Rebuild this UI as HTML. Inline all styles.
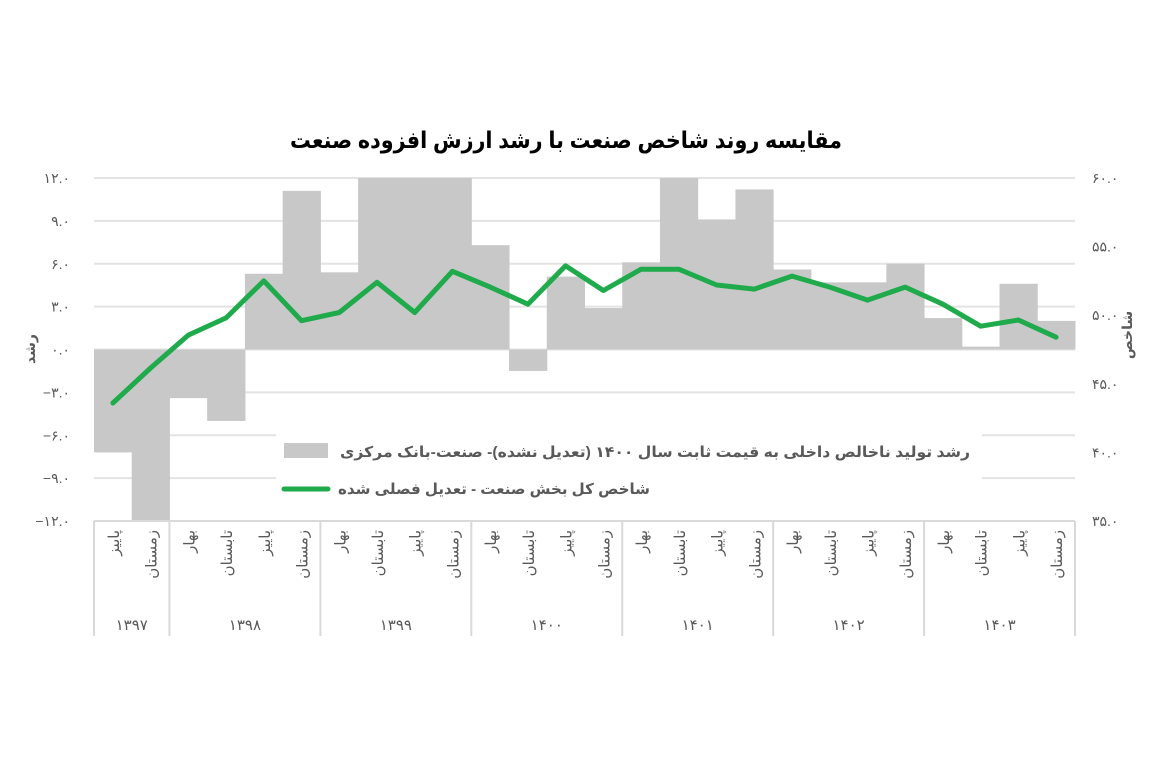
<!DOCTYPE html>
<html><head><meta charset="utf-8"><style>
body{margin:0;background:#fff}
svg{display:block;font-family:"Liberation Sans","Noto Sans CJK SC","DejaVu Sans",sans-serif}
</style></head><body>
<svg id="chart" width="1152" height="768" viewBox="0 0 1152 768" xmlns="http://www.w3.org/2000/svg">
<text x="566" y="148" text-anchor="middle" font-size="23" font-weight="bold" fill="#000" textLength="552" lengthAdjust="spacingAndGlyphs">مقایسه روند شاخص صنعت با رشد ارزش افزوده صنعت</text>
<g id="grid"></g>
<g id="bars"></g>
<g id="xaxis"></g>
<g id="ly"></g>
<g id="ry"></g>
<rect x="276" y="432" width="706" height="70" fill="#fff"/>
<g id="line"></g>
<text transform="translate(35,349) rotate(-90)" text-anchor="middle" font-size="14" font-weight="bold" fill="#595959">رشد</text>
<text transform="translate(1132,335) rotate(-90)" text-anchor="middle" font-size="14" font-weight="bold" fill="#595959">شاخص</text>
<g>
<rect x="284" y="443" width="44" height="15" fill="#c9c8c9"/>
<text x="970" y="457" text-anchor="end" font-size="15" font-weight="bold" fill="#595959" textLength="630" lengthAdjust="spacingAndGlyphs">رشد تولید ناخالص داخلی به قیمت ثابت سال ۱۴۰۰ (تعدیل نشده)- صنعت-بانک مرکزی</text>
<line x1="284" y1="489" x2="328" y2="489" stroke="#1faa4b" stroke-width="5" stroke-linecap="round"/>
<text x="650" y="494" text-anchor="end" font-size="15" font-weight="bold" fill="#595959" textLength="312" lengthAdjust="spacingAndGlyphs">شاخص کل بخش صنعت - تعدیل فصلی شده</text>
</g>
</svg>
<script>
const years = ["۱۳۹۷","۱۳۹۸","۱۳۹۹","۱۴۰۰","۱۴۰۱","۱۴۰۲","۱۴۰۳"];
const yearCounts = [2,4,4,4,4,4,4];
const seasons = ["پاییز","زمستان","بهار","تابستان","پاییز","زمستان","بهار","تابستان","پاییز","زمستان","بهار","تابستان","پاییز","زمستان","بهار","تابستان","پاییز","زمستان","بهار","تابستان","پاییز","زمستان","بهار","تابستان","پاییز","زمستان"];
const growth = [-7.2,-12.5,-3.4,-5.0,5.3,11.1,5.4,13,13,13,7.3,-1.5,5.1,2.9,6.1,13,9.1,11.2,5.6,4.7,4.7,6.0,2.2,0.2,4.6,2.0];
const indexVals = [43.6,46.15,48.55,49.8,52.5,49.6,50.2,52.4,50.2,53.2,52.05,50.8,53.6,51.8,53.35,53.35,52.2,51.9,52.85,52.05,51.1,52.05,50.8,49.2,49.65,48.4];
const leftTicks = [12,9,6,3,0,-3,-6,-9,-12];
const rightTicks = [60,55,50,45,40,35];

const NS="http://www.w3.org/2000/svg";
const X0=94,X1=1075,YT=178,YB=521;
const n=seasons.length, bw=(X1-X0)/n;
const yL=v=>YT+(12-Math.max(-12,Math.min(12,v)))/24*(YB-YT);
const yR=v=>YT+(60-v)/25*(YB-YT);
const xC=i=>X0+bw*(i+0.5);
const fa=s=>String(s).replace(/\d/g,d=>"۰۱۲۳۴۵۶۷۸۹"[d]);
function mk(tag,attrs,parent,txt){const e=document.createElementNS(NS,tag);for(const k in attrs)e.setAttribute(k,attrs[k]);if(txt!==undefined)e.textContent=txt;document.getElementById(parent).appendChild(e);return e;}

leftTicks.forEach((t,i)=>{
  const y=yL(t);
  const g=mk("line",{x1:X0,x2:X1,y1:y,y2:y,stroke:"#e3e3e3","stroke-width":2},"grid");
  
  
  const lab=(t<0?"−":"")+fa(Math.abs(t).toFixed(1));
  const e=mk("text",{x:70,y:y+5,"text-anchor":"end","font-size":14,fill:"#595959"},"ly",lab);
  
  
});
rightTicks.forEach(t=>{
  const e=mk("text",{x:1092,y:yR(t)+5,"font-size":14,fill:"#595959"},"ry",fa(t.toFixed(1)));
  
  
});
growth.forEach((v,i)=>{
  const y0=yL(0),y1=yL(v);
  const r=mk("rect",{x:X0+bw*i,y:Math.min(y0,y1),width:bw+0.5,height:Math.abs(y1-y0),fill:"#c9c8c9"},"bars");
  
  
});
const pts=indexVals.map((v,i)=>xC(i).toFixed(1)+","+yR(v).toFixed(1)).join(" ");
const pl=mk("polyline",{points:pts,fill:"none",stroke:"#1faa4b","stroke-width":5,"stroke-linejoin":"round","stroke-linecap":"round"},"line");



let bl=mk("line",{x1:X0,x2:X1,y1:YB,y2:YB,stroke:"#d9d9d9","stroke-width":2},"xaxis");


seasons.forEach((s,i)=>{
  const e=mk("text",{transform:`translate(${xC(i)+6},530) rotate(-90)`,"text-anchor":"end","font-size":15,fill:"#595959"},"xaxis",s);
  
  
});
let start=0;
const sep=x=>{const l=mk("line",{x1:x,x2:x,y1:YB,y2:636,stroke:"#d9d9d9","stroke-width":2},"xaxis");};
sep(X0);
years.forEach((yv,k)=>{
  const end=start+yearCounts[k];
  const e=mk("text",{x:X0+bw*(start+end)/2,y:630,"text-anchor":"middle","font-size":15,fill:"#595959"},"xaxis",yv);
  
  
  sep(X0+bw*end);
  start=end;
});
</script>
</body></html>
